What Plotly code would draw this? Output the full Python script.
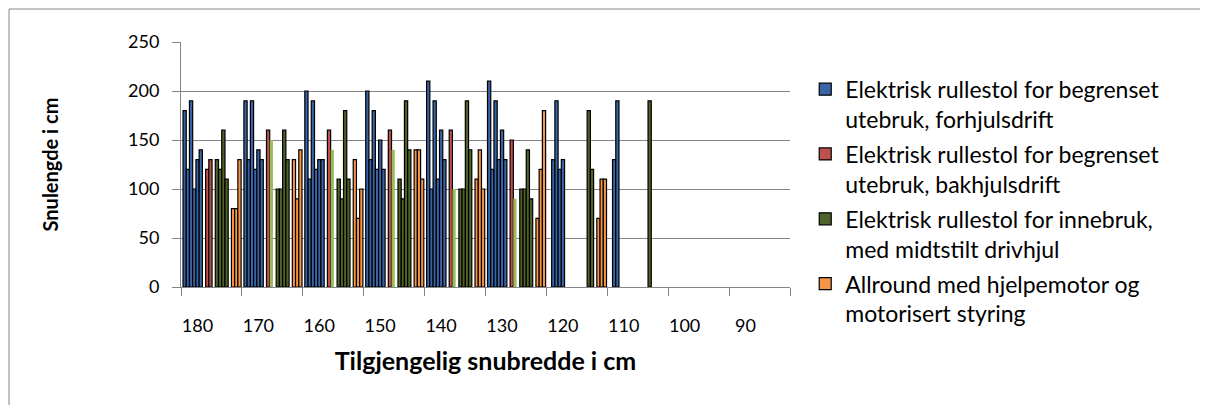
import plotly.graph_objects as go

# x categories: available turning width (cm), plotted from wide to narrow
CATEGORIES = ["180", "170", "160", "150", "140", "130", "120", "110", "100", "90"]

# turning length (cm); one row per category, one value per bar slot, None = no bar
FORHJUL = [
    [180, 120, 190, 100, 130, 140],
    [190, 130, 190, 120, 140, 130],
    [200, 110, 190, 120, 130, 130],
    [200, 130, 180, 120, 150, 120],
    [210, 100, 190, 110, 160, 130],
    [210, 120, 190, 130, 160, 130],
    [None, 130, 190, 120, 130, None],
    [None, 130, 190, None, None, None],
    [None, None, None, None, None, None],
    [None, None, None, None, None, None],
]
BAKHJUL = [
    [120, 130],
    [160, None],
    [160, None],
    [160, None],
    [160, None],
    [150, None],
    [None, None],
    [None, None],
    [None, None],
    [None, None],
]
INNEBRUK = [
    [130, 120, 160, 110],
    [100, 100, 160, 130],
    [110, 90, 180, 110],
    [110, 90, 190, 140],
    [100, 100, 190, 140],
    [100, 100, 140, 90],
    [None, None, 180, 120],
    [None, None, 190, None],
    [None, None, None, None],
    [None, None, None, None],
]
ALLROUND = [
    [80, 80, 130],
    [130, 90, 140],
    [130, 70, 100],
    [140, 140, 110],
    [110, 140, 100],
    [70, 120, 180],
    [70, 110, 110],
    [None, None, None],
    [None, None, None],
    [None, None, None],
]
# extra series without legend entry (light green)
LYSGRONN = [None, 150, 140, 140, 100, 90, None, None, None, None]

NAMES = [
    "Elektrisk rullestol for begrenset<br>utebruk, forhjulsdrift",
    "Elektrisk rullestol for begrenset<br>utebruk, bakhjulsdrift",
    "Elektrisk rullestol for innebruk,<br>med midtstilt drivhjul",
    "Allround med hjelpemotor og<br>motorisert styring",
]
COLORS = ["#3A64A8", "#C0504D", "#4F6228", "#F79646"]
LIGHT_GREEN = "#9BBB59"
GRID = "#868686"
FONT = "Lato"

# slot geometry inside one category (category width = 1)
X0 = -0.467
PITCH = 0.053
FIRST_SLOT = [0, 7, 10, 15]
LIGHT_SLOT = 8

fig = go.Figure()

for data, name, color, first in zip([FORHJUL, BAKHJUL, INNEBRUK, ALLROUND], NAMES, COLORS, FIRST_SLOT):
    nslots = len(data[0])
    for j in range(nslots):
        fig.add_trace(go.Bar(
            x=CATEGORIES,
            y=[row[j] for row in data],
            offset=X0 + (first + j) * PITCH,
            width=PITCH,
            marker=dict(color=color, line=dict(color="black", width=1.2)),
            name=name,
            legendgroup=name,
            showlegend=(j == 0),
        ))

fig.add_trace(go.Bar(
    x=CATEGORIES, y=LYSGRONN,
    offset=X0 + LIGHT_SLOT * PITCH, width=PITCH,
    marker=dict(color=LIGHT_GREEN, line=dict(width=0)),
    showlegend=False,
))

# page has an 8px body margin, so the figure is 1200x397 starting at (8, 8)
# plot area in page pixels: left 181, right 790, top 42, bottom 287
OFF = 8
PL, PR, PT, PB = 181, 790, 42, 287
FW, FH = 1208 - OFF, 405 - OFF
W, H = PR - PL, PB - PT
fig.add_shape(
    type="rect", xref="paper", yref="paper",
    x0=(9 - PL) / W, x1=(1203 - PL) / W,
    y0=(PB - 412) / H, y1=(PB - 9) / H,
    line=dict(color=GRID, width=1),
)

fig.update_layout(
    width=FW, height=FH,
    barmode="overlay",
    paper_bgcolor="white", plot_bgcolor="white",
    font=dict(family=FONT, size=15, color="black"),
    margin=dict(l=PL - OFF, r=FW - (PR - OFF), t=PT - OFF, b=FH - (PB - OFF), autoexpand=False),
    showlegend=True,
    legend=dict(
        x=1.025, xanchor="left", y=0.895, yanchor="top",
        font=dict(family=FONT, size=23, color="black"),
        valign="top", itemwidth=30,
        traceorder="grouped", tracegroupgap=2,
        bgcolor="rgba(0,0,0,0)", maxheight=380,
    ),
)

fig.update_xaxes(
    type="category", categoryorder="array", categoryarray=CATEGORIES,
    range=[-0.5, len(CATEGORIES) - 0.5],
    tickson="boundaries", ticks="outside", ticklen=8, tickcolor=GRID,
    showgrid=False, showline=True, linecolor=GRID, linewidth=1,
    tickfont=dict(size=18), ticklabelstandoff=22, ticklabelshift=-14,
    title=dict(text="<b>Tilgjengelig snubredde i cm</b>", font=dict(size=25), standoff=17),
)
fig.update_yaxes(
    range=[0, 250], dtick=50,
    ticks="outside", ticklen=8, tickcolor=GRID,
    showgrid=True, gridcolor=GRID, gridwidth=1,
    showline=True, linecolor=GRID, linewidth=1, zeroline=False,
    tickfont=dict(size=18), ticklabelstandoff=9,
    title=dict(text="<b>Snulengde i cm</b>", font=dict(size=20), standoff=64),
)

fig.write_html("out.html")
